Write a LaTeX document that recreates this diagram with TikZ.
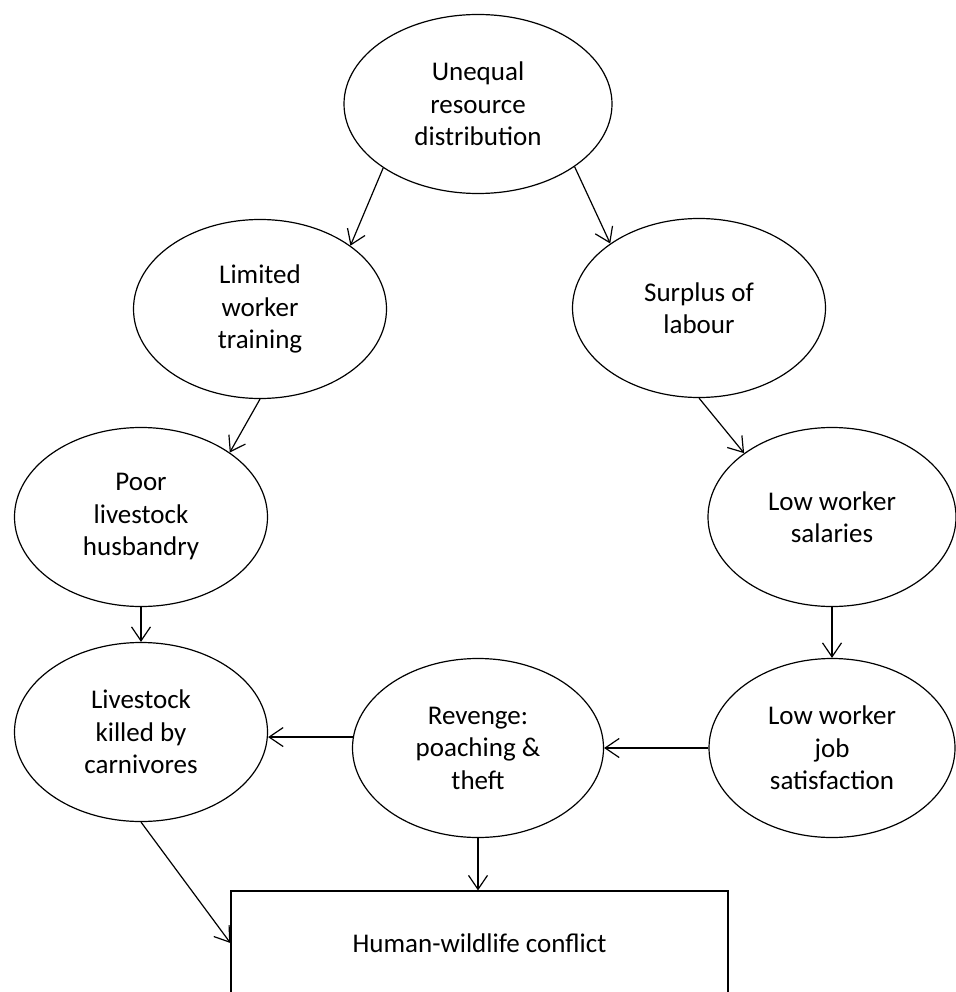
\documentclass[tikz,border=0pt]{standalone}
\usepackage{fontspec}
\setmainfont{Carlito}
\usetikzlibrary{shapes.geometric,arrows.meta}
\tikzstyle{causeell}=[ellipse,draw,line width=1.2pt,minimum width=253pt,minimum height=179pt,inner sep=0pt,align=center,font=\fontsize{27}{32.5}\selectfont]
\tikzstyle{effectbox}=[rectangle,draw,line width=1.2pt,minimum width=497pt,minimum height=104pt,inner sep=0pt,font=\fontsize{27}{32.5}\selectfont]

\begin{document}
\begin{tikzpicture}[x=1pt,y=-1pt]
    \useasboundingbox (0,0) rectangle (955,992);
    \node[causeell,minimum width=268pt] (n1) at (478,104) {Unequal\\resource\\distribution};
    \node[causeell] (n2) at (260,309) {Limited\\worker\\training};
    \node[causeell] (n3) at (699,308) {Surplus of\\labour};
    \node[causeell] (n4) at (141,517) {Poor\\livestock\\husbandry};
    \node[causeell,minimum width=248pt] (n5) at (832,517) {Low worker\\salaries};
    \node[causeell] (n6) at (141,732) {Livestock\\killed by\\carnivores};
    \node[causeell,minimum width=251pt] (n7) at (478,748) {Revenge:\\poaching \&\\theft};
    \node[causeell,minimum width=246pt] (n8) at (832,748) {Low worker\\job\\satisfaction};
    \node[effectbox] (n9) at (479.5,943) {Human-wildlife conflict};
    
    \foreach \from/\to in {n1.214/n2.35,n1.327/n3.144,n2.south/n4.36,n3.south/n5.144,n4.south/n6.north,n5.south/n8.north,n8.west/n7.east,n7.175/n7.175 -| n6.east,n7.south/n7.south |- n9.north,n6.south/n9.west}
    \draw[-{Straight Barb[length=14pt,width=19pt]},line width=1.2pt] (\from) -- (\to);
\end{tikzpicture}
\end{document}
